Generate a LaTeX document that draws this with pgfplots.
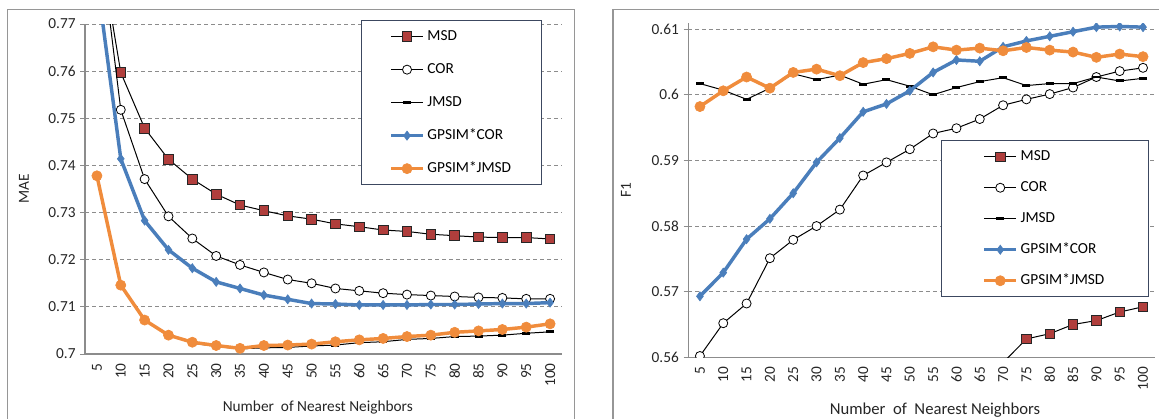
\documentclass[border=0pt]{standalone}
\usepackage{fontspec}
\setmainfont{Carlito}
\usepackage{pgfplots}
\usepackage{pgfplotstable}
\pgfplotsset{compat=1.18}

\definecolor{msdred}{RGB}{176,62,60}
\definecolor{gblue}{RGB}{74,126,187}
\definecolor{gorange}{RGB}{240,140,60}
\definecolor{gridgray}{RGB}{140,140,140}
\definecolor{axgray}{RGB}{140,140,140}
\definecolor{legborder}{RGB}{60,72,96}
\definecolor{framegray}{RGB}{150,150,150}

\pgfplotstableread{
x   msd    cor    jmsd   gc     gj
5   0.790  0.793  0.7378 0.7795 0.7378
10  0.7597 0.7518 0.7146 0.7414 0.7146
15  0.7479 0.7371 0.7072 0.7283 0.7072
20  0.7413 0.7292 0.7040 0.7221 0.7040
25  0.7371 0.7245 0.7023 0.7182 0.7025
30  0.7339 0.7208 0.7016 0.7153 0.7018
35  0.7316 0.7189 0.7011 0.7139 0.7012
40  0.7304 0.7173 0.7013 0.7125 0.7018
45  0.7293 0.7158 0.7014 0.7116 0.7019
50  0.7286 0.7150 0.7017 0.7107 0.7021
55  0.7276 0.7139 0.7019 0.7106 0.7026
60  0.7270 0.7134 0.7024 0.7104 0.7030
65  0.7263 0.7129 0.7026 0.7104 0.7033
70  0.7260 0.7126 0.7031 0.7104 0.7037
75  0.7254 0.7124 0.7033 0.7105 0.7040
80  0.7251 0.7122 0.7037 0.7105 0.7046
85  0.7248 0.7120 0.7038 0.7106 0.7049
90  0.7247 0.7119 0.7040 0.7107 0.7052
95  0.7247 0.7117 0.7044 0.7107 0.7057
100 0.7244 0.7117 0.7047 0.7109 0.7064
}\maedata

\pgfplotstableread{
x   msd    cor    jmsd   gc     gj
5   nan    0.5602 0.6017 0.5693 0.5982
10  nan    0.5652 0.6007 0.5729 0.6006
15  nan    0.5682 0.5993 0.5780 0.6027
20  nan    0.5751 0.6010 0.5811 0.6010
25  nan    0.5779 0.6032 0.5850 0.6034
30  nan    0.5800 0.6023 0.5897 0.6039
35  nan    0.5825 0.6030 0.5934 0.6029
40  nan    0.5877 0.6016 0.5974 0.6049
45  nan    0.5897 0.6023 0.5986 0.6055
50  nan    0.5917 0.6013 0.6006 0.6063
55  nan    0.5941 0.6000 0.6034 0.6073
60  nan    0.5949 0.6011 0.6053 0.6068
65  nan    0.5963 0.6020 0.6051 0.6071
70  0.5592 0.5984 0.6026 0.6073 0.6067
75  0.5628 0.5993 0.6014 0.6082 0.6072
80  0.5636 0.6001 0.6017 0.6089 0.6068
85  0.5650 0.6011 0.6017 0.6096 0.6065
90  0.5656 0.6027 0.6027 0.6103 0.6057
95  0.5669 0.6036 0.6021 0.6104 0.6062
100 0.5677 0.6041 0.6025 0.6103 0.6058
}\fdata

\pgfplotsset{
  excel/.style={
    scale only axis,
    axis lines*=left,
    axis line style={draw=axgray, line width=0.9pt, -},
    xmin=2.5, xmax=102.5,
    xtick={5,10,15,20,25,30,35,40,45,50,55,60,65,70,75,80,85,90,95,100},
    xticklabels={5,10,15,20,25,30,35,40,45,50,55,60,65,70,75,80,85,90,95,100},
    xtick style={draw=none},
    ytick style={draw=axgray, line width=0.75pt},
    tick align=outside,
    major tick length=3.5pt,
    ymajorgrids,
    grid style={gridgray, line width=0.75pt, dash pattern=on 3pt off 2.25pt},
    xticklabel style={rotate=90, anchor=east, font=\fontsize{11.5}{12}\selectfont, text=black!85},
    yticklabel style={font=\fontsize{11.5}{12}\selectfont, text=black!85},
    label style={font=\fontsize{11.5}{12}\selectfont, text=black!85},
    legend cell align=left,
    clip marker paths=true,
    legend image code/.code={\draw[##1, mark repeat=2, mark phase=2] plot coordinates {(0pt,0pt) (12pt,0pt) (24pt,0pt)};},
  },
  smsd/.style={black, line width=0.75pt, mark=square*, mark size=3.6pt, mark options={fill=msdred, draw=black!85, line width=0.6pt}},
  scor/.style={black, line width=0.75pt, mark=*, mark size=3.4pt, mark options={fill=white, draw=black, line width=0.6pt}},
  sjmsd/.style={black, line width=0.75pt, mark=-, mark size=3pt, mark options={line width=2.2pt}},
  sgc/.style={gblue, line width=2.6pt, mark=diamond*, mark size=3.4pt, mark options={line width=0.5pt}},
  sgj/.style={gorange, line width=2.6pt, mark=*, mark size=3.8pt, mark options={line width=0.5pt}},
}

\begin{document}
\begin{tikzpicture}
\path[use as bounding box] (0,0) rectangle (869.25pt,313.5pt);
\draw[framegray, line width=0.9pt] (5.5pt,-5pt) -- (5.5pt,306.5pt) -- (430.7pt,306.5pt) -- (430.7pt,-5pt);
\draw[framegray, line width=0.9pt] (459.75pt,-5pt) -- (459.75pt,306.5pt) -- (880pt,306.5pt);

\begin{axis}[excel,
  at={(63.75pt,48pt)}, anchor=south west,
  width=357.75pt, height=247.5pt,
  ymin=0.70, ymax=0.77,
  ytick={0.70,0.71,0.72,0.73,0.74,0.75,0.76,0.77},
  yticklabels={0.7,0.71,0.72,0.73,0.74,0.75,0.76,0.77},
  xlabel={Number\ \ of Nearest Neighbors},
  ylabel={MAE},
  xlabel style={at={(axis description cs:0.488,-0.161)}, anchor=center},
  ylabel style={at={(axis description cs:-0.128,0.5)}, anchor=center},
  legend style={at={(axis description cs:0.578,1.012)}, anchor=north west,
    draw=legborder, line width=0.9pt, fill=white, inner xsep=21pt, inner ysep=5pt,
    row sep=10.75pt, font=\fontsize{11.5}{13}\selectfont,
    nodes={inner sep=2pt, text height=8pt, text depth=2pt}},
]
\addplot[smsd] table[x=x,y=msd] {\maedata};
\addplot[scor] table[x=x,y=cor] {\maedata};
\addplot[sjmsd] table[x=x,y=jmsd] {\maedata};
\addplot[sgc] table[x=x,y=gc] {\maedata};
\addplot[sgj] table[x=x,y=gj] {\maedata};
\legend{MSD,COR,JMSD,GPSIM*COR,GPSIM*JMSD}
\end{axis}

\begin{axis}[excel,
  at={(516.2pt,45.5pt)}, anchor=south west,
  width=349.8pt, height=250.6pt,
  ymin=0.56, ymax=0.6109,
  ytick={0.56,0.57,0.58,0.59,0.60,0.61},
  yticklabels={0.56,0.57,0.58,0.59,0.6,0.61},
  xlabel={Number\ \ of\ \ Nearest Neighbors},
  ylabel={F1},
  xlabel style={at={(axis description cs:0.529,-0.158)}, anchor=center, font=\fontsize{12.5}{13}\selectfont},
  ylabel style={at={(axis description cs:-0.1336,0.5)}, anchor=center},
  legend style={at={(axis description cs:0.541,0.650)}, anchor=north west,
    draw=legborder, line width=0.9pt, fill=white, inner xsep=31pt, inner ysep=5pt,
    row sep=9.25pt, font=\fontsize{11.5}{13}\selectfont,
    nodes={inner sep=2pt, text height=8pt, text depth=2pt}},
]
\addplot[smsd] table[x=x,y=msd] {\fdata};
\addplot[scor] table[x=x,y=cor] {\fdata};
\addplot[sjmsd] table[x=x,y=jmsd] {\fdata};
\addplot[sgc] table[x=x,y=gc] {\fdata};
\addplot[sgj] table[x=x,y=gj] {\fdata};
\legend{MSD,COR,JMSD,GPSIM*COR,GPSIM*JMSD}
\end{axis}
\end{tikzpicture}
\end{document}
